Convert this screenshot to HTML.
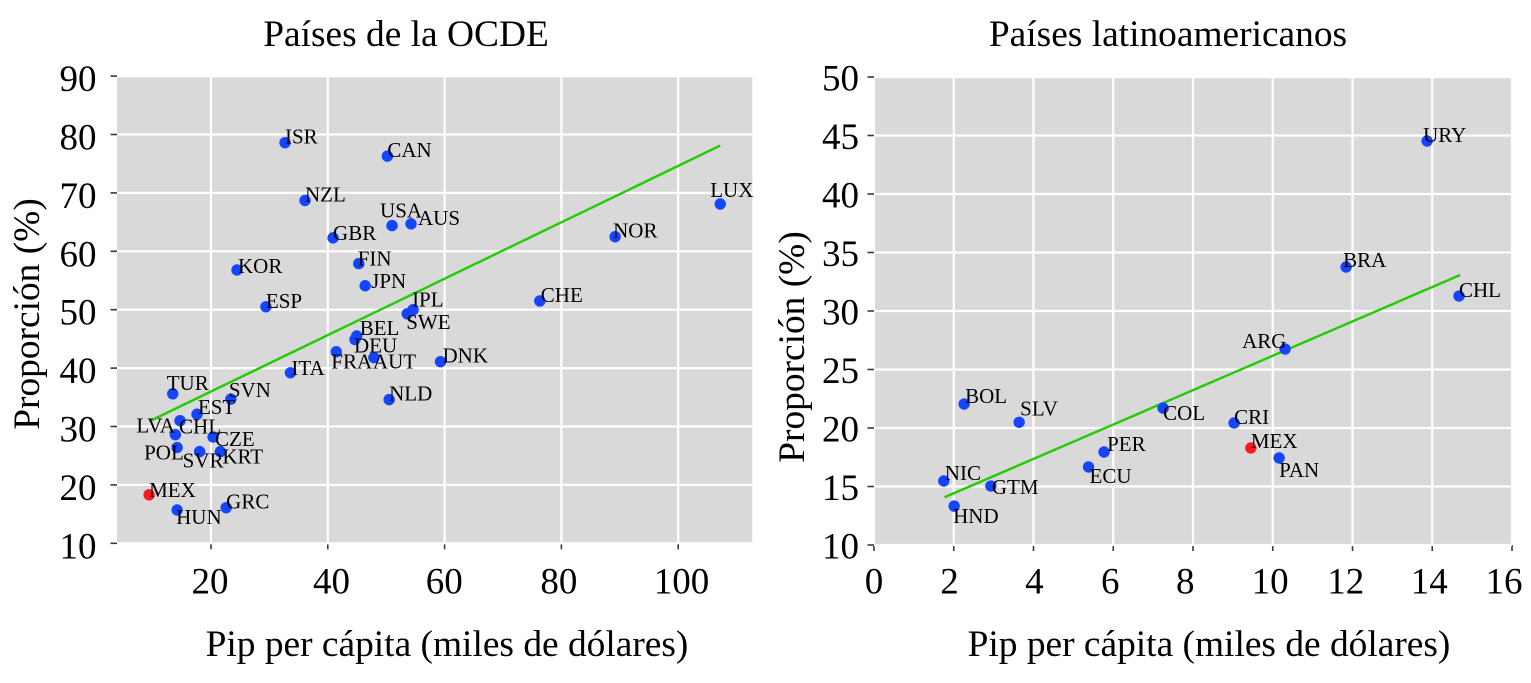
<!DOCTYPE html>
<html lang="es">
<head>
<meta charset="utf-8">
<title>Países de la OCDE y latinoamericanos</title>
<style>
html,body{margin:0;padding:0;background:#fff;}
svg{display:block;font-family:"Liberation Serif",serif;}
</style>
</head>
<body>
<svg id="figure" xmlns="http://www.w3.org/2000/svg" width="1531" height="683" viewBox="0 0 1531 683">
  <text x="406" y="46" font-size="37.4" text-anchor="middle" fill="#000">Países de la OCDE</text>
  <text x="447" y="656" font-size="37.4" text-anchor="middle" fill="#000">Pip per cápita (miles de dólares)</text>
  <text transform="translate(39,314) rotate(-90)" font-size="37.4" text-anchor="middle" fill="#000">Proporción (%)</text>
  <text x="1168" y="46" font-size="37.4" text-anchor="middle" fill="#000">Países latinoamericanos</text>
  <text x="1209" y="656" font-size="37.4" text-anchor="middle" fill="#000">Pip per cápita (miles de dólares)</text>
  <text transform="translate(804,347) rotate(-90)" font-size="37.4" text-anchor="middle" fill="#000">Proporción (%)</text>
</svg>
<script>
// OECD panel data
const oecdCodes = ['ISR','CAN','NZL','LUX','USA','AUS','GBR','NOR','FIN','KOR','JPN','ESP','CHE','IPL','SWE','BEL','DEU','FRA','AUT','DNK','ITA','NLD','TUR','SVN','EST','CHL','LVA','CZE','POL','SVR','KRT','MEX','HUN','GRC'];
const oecdGdp = [32.67,50.2,36.1,107.2,51,54.25,40.9,89.2,45.3,24.45,46.4,29.4,76.3,54.6,53.6,44.95,44.65,41.45,47.9,59.3,33.6,50.5,13.45,23.4,17.6,14.7,13.9,20.35,14.2,18.05,21.6,9.4,14.2,22.6];
const oecdShare = [78.6,76.3,68.7,68.1,64.4,64.7,62.3,62.5,57.9,56.8,54.1,50.5,51.5,50,49.3,45.5,44.9,42.8,41.8,41.1,39.2,34.6,35.6,34.7,32.1,31,28.6,28.2,26.4,25.7,25.7,18.3,15.7,16.1];
const oecdTrendGdp = [9.45,107.2];
const oecdTrendShare = [30.9,78.1];
const oecdXTicks = [20,40,60,80,100];
const oecdYTicks = [10,20,30,40,50,60,70,80,90];

// Latin America panel data
const latamCodes = ['URY','BRA','CHL','ARG','COL','CRI','BOL','SLV','MEX','PAN','PER','ECU','NIC','GTM','HND'];
const latamGdp = [13.87,11.84,14.67,10.31,7.25,9.03,2.26,3.64,9.45,10.16,5.77,5.38,1.75,2.93,2.01];
const latamShare = [44.53,33.76,31.28,26.75,21.7,20.43,22.05,20.49,18.29,17.44,17.95,16.67,15.47,15.04,13.33];
const latamTrendGdp = [1.77,14.7];
const latamTrendShare = [14.08,33.08];
const latamXTicks = [0,2,4,6,8,10,12,14,16];
const latamYTicks = [10,15,20,25,30,35,40,45,50];

// Label placement relative to each marker or tick (presentation only)
const oecdNudge = {ISR:[0,1],CAN:[0,1],NZL:[0,1],LUX:[-10,-7],USA:[-12,-8],AUS:[7,1],GBR:[0,2],NOR:[-2,1],FIN:[-1,2],KOR:[1,3],JPN:[6,2],ESP:[0,1],CHE:[1,1],IPL:[-1,-3],SWE:[-1,15],BEL:[3,-1],DEU:[-1,13],FRA:[-5,17],AUT:[-1,11],DNK:[2,1],ITA:[1,2],NLD:[0,1],TUR:[-6,-4],SVN:[-2,-2],EST:[1,0],CHL:[-1,13],LVA:[-39,-2],CZE:[2,9],POL:[-33,12],SVR:[-17,16],KRT:[2,12],MEX:[0,2],HUN:[-1,14],GRC:[0,1]};
const latamNudge = {URY:[-4,1],BRA:[-3,0],CHL:[0,1],ARG:[-43,-1],COL:[0,12],CRI:[0,1],BOL:[1,-1],SLV:[1,-7],MEX:[0,0],PAN:[0,19],PER:[3,-1],ECU:[1,16],NIC:[1,-1],GTM:[1,8],HND:[-1,17]};
const oecdXLabelShift = {20:-1,40:3.7,60:-0.3,80:-2.5,100:3.3};
const latamXLabelShift = {0:0,2:-4.3,4:0.9,6:-3,8:-7.7,10:-2.6,12:-6.8,14:-3,16:-8};

const NS = 'http://www.w3.org/2000/svg';
const figure = document.getElementById('figure');

function make(tag, attrs, parent) {
  const node = document.createElementNS(NS, tag);
  for (const key in attrs) node.setAttribute(key, attrs[key]);
  parent.appendChild(node);
  return node;
}

function drawPanel(p) {
  const sx = v => p.x0 + (v - p.xRef) * p.xScale;
  const sy = v => p.y0 - (v - p.yRef) * p.yScale;

  const group = make('g', {}, figure);
  
  

  const bg = make('rect', {x:p.left, y:p.top, width:p.right - p.left, height:p.bottom - p.top, fill:'#d9d9d9'}, group);
  
  

  p.xTicks.forEach(t => {
    const x = sx(t);
    const grid = make('line', {x1:x, x2:x, y1:p.top, y2:p.bottom, stroke:'#fff', 'stroke-width':2.2}, group);
    
    
    const tick = make('line', {x1:x, x2:x, y1:p.bottom, y2:p.bottom + 6, stroke:'#333a45', 'stroke-width':1.6}, group);
    
    
    const label = make('text', {x:x + p.xLabelShift[t], y:593.5, 'font-size':37, 'text-anchor':'middle', fill:'#000'}, group);
    
    
    label.textContent = t;
  });

  p.yTicks.forEach(t => {
    const y = sy(t);
    const grid = make('line', {x1:p.left, x2:p.right, y1:y, y2:y, stroke:'#fff', 'stroke-width':2.2}, group);
    
    
    const tick = make('line', {x1:p.left - 6.5, x2:p.left, y1:y, y2:y, stroke:'#333a45', 'stroke-width':1.6}, group);
    
    
    const label = make('text', {x:p.left - p.yLabelGap, y:y + p.yLabelDrop, 'font-size':37, 'text-anchor':'end', fill:'#000'}, group);
    
    
    label.textContent = t;
  });

  const trend = make('line', {x1:sx(p.trendX[0]), y1:sy(p.trendY[0]), x2:sx(p.trendX[1]), y2:sy(p.trendY[1]), stroke:'#22cc00', 'stroke-width':2.4}, group);
  
  

  p.codes.forEach((code, i) => {
    const dot = make('circle', {cx:sx(p.xs[i]), cy:sy(p.ys[i]), r:5.7, fill:code === 'MEX' ? '#ff1a22' : '#1446ff'}, group);
    
    
  });

  p.codes.forEach((code, i) => {
    const nudge = p.nudge[code];
    const label = make('text', {x:sx(p.xs[i]) + nudge[0], y:sy(p.ys[i]) + nudge[1], 'font-size':21, fill:'#000'}, group);
    
    
    label.textContent = code;
  });
}

drawPanel({
  name:'oecd', left:117, right:752.3, top:76, bottom:543.3,
  x0:211, xRef:20, xScale:5.84, y0:543.3, yRef:10, yScale:5.84,
  yLabelGap:20.5, yLabelDrop:15,
  xTicks:oecdXTicks, yTicks:oecdYTicks, xLabelShift:oecdXLabelShift,
  codes:oecdCodes, xs:oecdGdp, ys:oecdShare,
  trendX:oecdTrendGdp, trendY:oecdTrendShare, nudge:oecdNudge
});
drawPanel({
  name:'latam', left:874, right:1512, top:77, bottom:545,
  x0:874, xRef:0, xScale:39.875, y0:545, yRef:10, yScale:11.7,
  yLabelGap:15, yLabelDrop:13.5,
  xTicks:latamXTicks, yTicks:latamYTicks, xLabelShift:latamXLabelShift,
  codes:latamCodes, xs:latamGdp, ys:latamShare,
  trendX:latamTrendGdp, trendY:latamTrendShare, nudge:latamNudge
});
</script>
</body>
</html>
